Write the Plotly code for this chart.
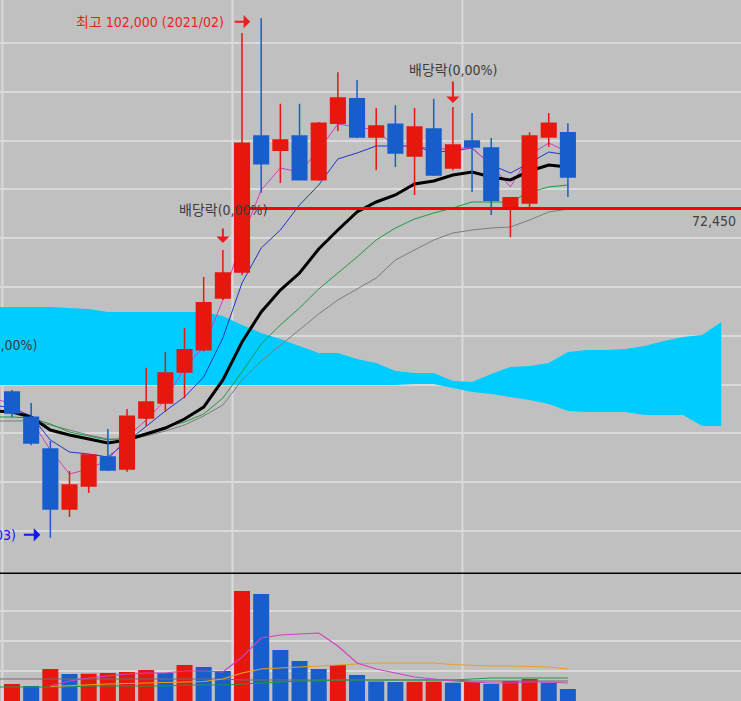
import plotly.graph_objects as go

# ---------------- data ----------------
months_all = ["2019/12",
              "2020/01", "2020/02", "2020/03", "2020/04", "2020/05", "2020/06",
              "2020/07", "2020/08", "2020/09", "2020/10", "2020/11", "2020/12",
              "2021/01", "2021/02", "2021/03", "2021/04", "2021/05", "2021/06",
              "2021/07", "2021/08", "2021/09", "2021/10", "2021/11", "2021/12",
              "2022/01", "2022/02", "2022/03", "2022/04", "2022/05", "2022/06",
              "2022/07", "2022/08", "2022/09", "2022/10", "2022/11", "2022/12",
              "2023/01", "2023/02"]
candle_months = months_all[1:31]
line_months = months_all[0:31]

open_ = [43950, 40050, 35100, 25800, 29350, 33850, 32000, 39900, 42250, 47050,
         50500, 58550, 62600, 83700, 81500, 83700, 76900, 85700, 89500, 83550,
         85550, 80600, 84800, 78750, 82950, 81850, 72500, 73300, 83550, 84200]
high = [44250, 42250, 36350, 31700, 34300, 38200, 41300, 47700, 50150, 53900,
        61800, 66000, 99700, 102000, 88700, 88700, 85900, 93600, 92400, 88050,
        88500, 88050, 89500, 88200, 87300, 83400, 74250, 84300, 87300, 85700]
low = [40050, 35700, 21300, 24550, 28250, 31700, 31550, 38650, 40850, 43000,
       50300, 58250, 62100, 74900, 76400, 76900, 76750, 84500, 83400, 78400,
       78900, 74550, 77500, 78400, 75000, 71450, 68000, 72700, 82000, 74250]
close = [40700, 36050, 25800, 29500, 34150, 31850, 40200, 42400, 46900, 50500,
         57800, 62450, 82600, 79400, 83100, 76900, 85700, 89600, 83550, 85250,
         81050, 85100, 77650, 82300, 82000, 73750, 74100, 83700, 85700, 77350]

# price moving averages (2019/12 .. 2022/06)
ma5 = [43020, 42090, 39600, 34950, 31220, 31990, 33390, 36960, 39600, 42710,
       47680, 50940, 58240, 67870, 75320, 78740, 78120, 81540, 85570, 85110,
       84640, 82000, 82310, 81540, 81850, 81850, 79210, 75790, 80760, 82620, 81220]
ma10 = [41930, 41470, 40230, 36500, 34630, 34320, 33860, 36190, 38520, 41000,
        43180, 46280, 52340, 60880, 66320, 69110, 72990, 76100, 80140, 81070,
        82160, 82160, 82160, 81220, 81380, 81850, 79210, 77960, 79520, 81220, 80760]
ma20 = [41000, 40850, 40070, 38050, 37270, 36650, 36030, 36500, 37430, 38360,
        39760, 41620, 45820, 51720, 56380, 59790, 62430, 66160, 69110, 71910,
        73460, 74550, 76260, 76720, 77650, 78120, 77340, 76880, 78270, 79210, 78900]
ma60 = [40070, 40070, 39920, 38980, 37740, 37120, 36500, 36810, 37590, 38520,
        39290, 40540, 43020, 47060, 51410, 54360, 57000, 59950, 62430, 64920,
        67560, 69420, 70820, 71750, 72530, 73460, 73460, 73460, 75010, 75790, 76100]
ma120 = [39450, 39450, 39450, 38830, 38050, 37270, 36650, 36650, 37120, 37900,
         38830, 40230, 41930, 45820, 48770, 51250, 53580, 56070, 58240, 59950,
         61660, 64450, 66010, 67560, 68650, 69110, 69420, 69580, 70660, 71910, 72370]

# ichimoku cloud edges (2019/12 .. 2023/02)
cloud_top = [57150, 57150, 57150, 57150, 57000, 56840, 56380, 56380, 56380, 56380,
             56380, 56380, 55760, 54360, 53120, 52180, 51100, 50010, 50010, 49080,
             48460, 47210, 46900, 46900, 45660, 45510, 46750, 47840, 47990, 48460,
             50160, 50480, 50480, 50630, 51100, 51870, 52490, 52800, 54820]
cloud_bottom = [45040, 45040, 45040, 45040, 45040, 45040, 45040, 45040, 45040, 45040,
                45040, 45040, 45040, 45040, 45040, 45040, 45040, 45040, 45040, 45040,
                45040, 45040, 45200, 45200, 44570, 43950, 43640, 43180, 42710, 42090,
                41000, 40850, 40850, 40850, 40380, 40380, 40380, 38670, 38670]

# volume (million shares)
volume = [5.67, 5.00, 10.67, 9.00, 9.10, 9.33, 9.67, 10.33, 9.33, 12.00,
          11.33, 10.00, 36.67, 35.67, 17.00, 13.33, 10.67, 12.00, 8.67, 6.50,
          6.33, 6.40, 6.45, 6.10, 6.33, 5.67, 6.67, 7.33, 6.10, 4.00]
vma5 = [None, None, None, 5.0, 6.67, 7.67, 8.33, 9.0, 9.33, 9.33,
        10.0, 10.0, 9.67, 14.67, 21.0, 22.0, 22.33, 22.67, 18.33, 12.67,
        10.67, 9.33, 8.0, 7.33, 6.67, 6.33, 6.0, 6.0, 6.33, 6.33, 6.0]
vma20 = [None, None, None, 4.83, 5.17, 5.5, 5.67, 5.83, 6.0, 6.0,
         6.33, 6.5, 7.33, 9.33, 10.67, 11.0, 11.33, 11.67, 12.0, 12.5,
         12.67, 12.67, 12.67, 12.67, 12.17, 11.83, 11.67, 11.67, 11.5, 11.33, 10.67]
vma60 = [4.67, 4.67, 4.67, 4.67, 4.67, 5.0, 5.0, 5.0, 5.0, 5.0,
         5.33, 5.33, 5.33, 5.67, 6.0, 6.33, 6.67, 6.67, 7.0, 7.0,
         7.0, 7.0, 7.0, 7.0, 7.0, 7.33, 7.67, 7.67, 7.67, 7.67, 7.67]
vma120 = [7.33, 7.33, 7.33, 7.33, 7.33, 7.33, 7.33, 7.33, 7.33, 7.33,
          7.33, 7.33, 7.33, 7.0, 7.0, 7.0, 7.0, 7.0, 7.0, 7.0,
          7.0, 7.0, 7.0, 7.0, 7.0, 6.67, 6.67, 6.67, 6.67, 6.67, 6.67]

level_price = 72450
dividend_months = ["2019/12", "2020/12", "2021/12"]
dividend_text = "배당락(0,00%)"

# ---------------- styles ----------------
RED = "#e6170c"
BLUE = "#175ecc"
BG = "#c0c0c0"
GRID = "#dadada"
CYAN = "#00ccff"
FONT = "Liberation Sans Narrow, DejaVu Sans Condensed, Noto Sans CJK KR, sans-serif"

H = 701.0
PRICE_RANGE = [15843, 104830]
VOL_RANGE = [0, 127 / 3]

fig = go.Figure()

# cloud
fig.add_trace(go.Scatter(x=months_all, y=cloud_bottom, mode="lines",
                         line=dict(width=0, color=CYAN), xaxis="x", yaxis="y2",
                         hoverinfo="skip"))
fig.add_trace(go.Scatter(x=months_all, y=cloud_top, mode="lines",
                         line=dict(width=0, color=CYAN), fill="tonexty",
                         fillcolor=CYAN, xaxis="x", yaxis="y2", hoverinfo="skip"))

# moving averages
for vals, col, w in [(ma120, "#7c7c7c", 1), (ma60, "#1e9a40", 1),
                     (ma10, "#2233cc", 1), (ma5, "#d838c0", 1),
                     (ma20, "#000000", 3)]:
    fig.add_trace(go.Scatter(x=line_months, y=vals, mode="lines",
                             line=dict(color=col, width=w), xaxis="x", yaxis="y2"))

# candles (overlay axis so they sit above the lines)
fig.add_trace(go.Candlestick(
    x=candle_months, open=open_, high=high, low=low, close=close,
    increasing=dict(line=dict(color=RED, width=1.5), fillcolor=RED),
    decreasing=dict(line=dict(color=BLUE, width=1.5), fillcolor=BLUE),
    whiskerwidth=0, xaxis="x", yaxis="y3"))

# volume bars
vol_colors = []
for i, v in enumerate(volume):
    if i == 0 or v >= volume[i - 1]:
        vol_colors.append(RED)
    else:
        vol_colors.append(BLUE)
fig.add_trace(go.Bar(x=candle_months, y=volume, marker=dict(color=vol_colors, line=dict(width=0)),
                     width=0.835, xaxis="x", yaxis="y"))

for vals, col in [(vma120, "#6e6e6e"), (vma60, "#1e9a40"),
                  (vma20, "#e8a020"), (vma5, "#d040c0")]:
    fig.add_trace(go.Scatter(x=line_months, y=vals, mode="lines",
                             line=dict(color=col, width=1.2), xaxis="x", yaxis="y"))

# ---------------- layout ----------------
price_dom0 = 128 / H
fig.update_layout(
    width=741, height=701, margin=dict(l=0, r=0, t=0, b=0),
    paper_bgcolor=BG, plot_bgcolor=BG, showlegend=False,
    boxgap=0.24, boxgroupgap=0,
    xaxis=dict(type="category", categoryorder="array", categoryarray=months_all,
               range=[0.374, 39.03], showticklabels=False, showgrid=False,
               zeroline=False, showline=False, ticks="",
               rangeslider=dict(visible=False), anchor="y"),
    yaxis=dict(domain=[0, 127 / H], range=VOL_RANGE, tickvals=[10, 20, 30],
               showgrid=True, gridcolor=GRID, gridwidth=2, showticklabels=False,
               zeroline=False, ticks=""),
    yaxis2=dict(domain=[price_dom0, 1], range=PRICE_RANGE, tick0=22365, dtick=7580,
                tickmode="linear", showgrid=True, gridcolor=GRID, gridwidth=2,
                showticklabels=False, zeroline=False, ticks="", anchor="x"),
    yaxis3=dict(overlaying="y2", range=PRICE_RANGE, visible=False, anchor="x"),
)

# vertical year grid lines
for xv in [0.5, 12.5, 24.5]:
    fig.add_shape(type="line", xref="x", yref="paper", x0=xv, x1=xv, y0=0, y1=1,
                  line=dict(color=GRID, width=2), layer="below")

# pane separator
fig.add_shape(type="line", xref="paper", yref="paper", x0=0, x1=1,
              y0=(H - 573.3) / H, y1=(H - 573.3) / H,
              line=dict(color="#000000", width=1.5), layer="above")

# horizontal price line
fig.add_shape(type="line", xref="x", yref="y2", x0=12.6, x1=40, y0=level_price,
              y1=level_price, line=dict(color="#ff0000", width=3), layer="above")
fig.add_annotation(xref="paper", yref="y2", x=738 / 741, y=level_price,
                   text=f"{level_price:,}", showarrow=False, xanchor="right",
                   yanchor="middle", yshift=-12.5,
                   font=dict(family=FONT, size=14, color="#404040"))

# highest / lowest markers
hi_idx = high.index(max(high))
lo_idx = low.index(min(low))
hi_m, lo_m = candle_months[hi_idx], candle_months[lo_idx]
fig.add_annotation(xref="x", yref="y2", x=hi_m, y=high[hi_idx],
                   text=f"최고 {high[hi_idx]:,} ({hi_m})", showarrow=False,
                   xanchor="right", yanchor="middle", xshift=-35, yshift=-3.5,
                   font=dict(family=FONT, size=14, color="#ee1c1c"))
fig.add_annotation(xref="x", yref="y2", x=hi_m, y=high[hi_idx], text="",
                   showarrow=True, ax=-28, ay=0, standoff=11, arrowhead=1,
                   arrowsize=1.1, arrowwidth=2, arrowcolor="#ee1c1c", yshift=-3.5)
fig.add_annotation(xref="x", yref="y2", x=lo_m, y=low[lo_idx],
                   text=f"최저 {low[lo_idx]:,} ({lo_m})", showarrow=False,
                   xanchor="right", yanchor="middle", xshift=-32.5, yshift=3,
                   font=dict(family=FONT, size=14, color="#1414f0"))
fig.add_annotation(xref="x", yref="y2", x=lo_m, y=low[lo_idx], text="",
                   showarrow=True, ax=-28, ay=0, standoff=10, arrowhead=1,
                   arrowsize=1.1, arrowwidth=2, arrowcolor="#1414f0", yshift=3)

# ex-dividend markers
div_layout = {
    "2019/12": dict(anchor="2020/01", xshift=-19.17, text_dy=45, tip_dy=None, tail_len=None),
    "2020/12": dict(anchor="2020/12", xshift=0, text_dy=40.5, tip_dy=7, tail_len=16),
    "2021/12": dict(anchor="2021/12", xshift=0, text_dy=37, tip_dy=4, tail_len=23),
}
for m in dividend_months:
    d = div_layout[m]
    ref_high = high[candle_months.index(d["anchor"])]
    fig.add_annotation(xref="x", yref="y2", x=d["anchor"], y=ref_high,
                       text=dividend_text, showarrow=False, xanchor="center",
                       yanchor="middle", xshift=d["xshift"], yshift=d["text_dy"],
                       font=dict(family=FONT, size=14, color="#3c3c3c"))
    if d["tip_dy"] is not None:
        fig.add_annotation(xref="x", yref="y2", x=d["anchor"], y=ref_high, text="",
                           showarrow=True, ax=0, ay=-d["tail_len"], standoff=0,
                           yshift=d["tip_dy"], arrowhead=1, arrowsize=1.1,
                           arrowwidth=2, arrowcolor="#ee1c1c")

fig.write_html("out.html")
